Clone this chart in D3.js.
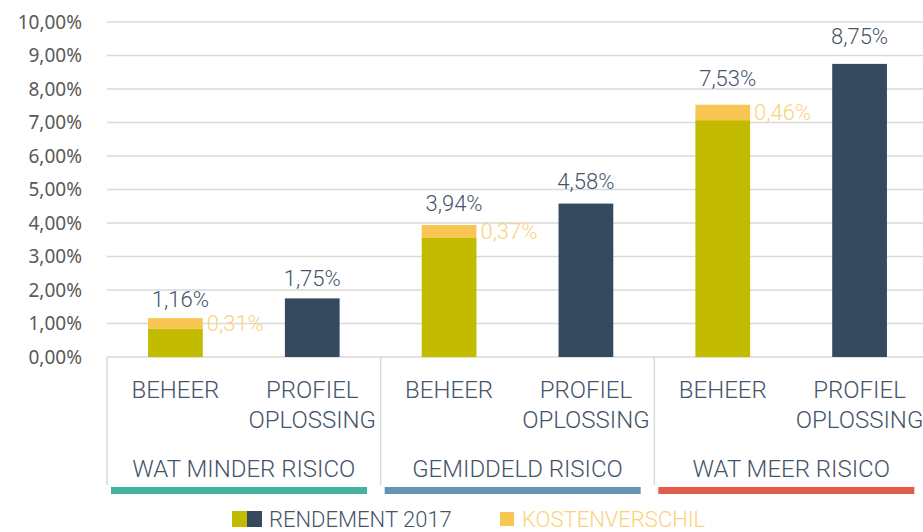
<!DOCTYPE html>
<html>
<head>
<meta charset="utf-8">
<script src="https://cdn.jsdelivr.net/npm/d3@7"></script>
<style>
  body { margin: 0; background: #fff; }
  svg { display: block; }
</style>
</head>
<body>
<div id="chart"></div>
<script>
const groups = ["WAT MINDER RISICO", "GEMIDDELD RISICO", "WAT MEER RISICO"];
const subCats = ["BEHEER", "PROFIEL OPLOSSING"];
const beheerRendement = [0.85, 3.57, 7.07];
const kostenverschil = [0.31, 0.37, 0.46];
const profielRendement = [1.75, 4.58, 8.75];
const yTicks = [0, 1, 2, 3, 4, 5, 6, 7, 8, 9, 10];
const groupColors = ["#45b39d", "#6394b5", "#e05c4b"];
const legendItems = ["RENDEMENT 2017", "KOSTENVERSCHIL"];

const width = 923;
const height = 532;
const margin = { top: 22, right: -5, bottom: 175, left: 107 };

const green = "#c2bb00", navy = "#354a5f", orange = "#f9c553";
const textCol = "#44546a", labelFont = "Roboto, sans-serif";

const fmt = d => d.toFixed(2).replace(".", ",") + "%";

const svg = d3.select("#chart").append("svg")
    .attr("width", width)
    .attr("height", height);

const x0 = d3.scaleBand()
    .domain(groups)
    .range([margin.left, width - margin.right]);

const x1 = d3.scaleBand()
    .domain(subCats)
    .range([0, x0.bandwidth()])
    .paddingInner(0.6)
    .paddingOuter(0.3);

const y = d3.scaleLinear()
    .domain([0, 10])
    .range([height - margin.bottom, margin.top]);

// gridlines
svg.append("g")
  .selectAll("line")
  .data(yTicks)
  .join("line")
    .attr("x1", margin.left)
    .attr("x2", width)
    .attr("y1", d => y(d))
    .attr("y2", d => y(d))
    .attr("stroke", "#d9d9d9")
    .attr("stroke-width", 1.5);

// y axis
const yAxis = svg.append("g")
    .attr("transform", `translate(${margin.left},0)`)
    .call(d3.axisLeft(y).tickValues(yTicks).tickSize(0).tickPadding(25).tickFormat(fmt));
yAxis.select(".domain").remove();
yAxis.selectAll("text")
    .attr("fill", "#595959")
    .attr("font-family", "'Noto Sans', sans-serif")
    .attr("font-size", 19);

// group dividers
const axisBottom = y(0);
svg.append("g")
  .selectAll("line")
  .data(groups)
  .join("line")
    .attr("x1", d => x0(d))
    .attr("x2", d => x0(d))
    .attr("y1", axisBottom)
    .attr("y2", axisBottom + 128)
    .attr("stroke", "#d9d9d9")
    .attr("stroke-width", 1.5);

const g = svg.append("g")
  .selectAll("g")
  .data(groups)
  .join("g")
    .attr("transform", d => `translate(${x0(d)},0)`);

// beheer stacked bar
g.append("rect")
    .attr("x", x1("BEHEER"))
    .attr("width", x1.bandwidth())
    .attr("y", (d, i) => y(beheerRendement[i]))
    .attr("height", (d, i) => y(0) - y(beheerRendement[i]))
    .attr("fill", green);

g.append("rect")
    .attr("x", x1("BEHEER"))
    .attr("width", x1.bandwidth())
    .attr("y", (d, i) => y(beheerRendement[i] + kostenverschil[i]))
    .attr("height", (d, i) => y(beheerRendement[i]) - y(beheerRendement[i] + kostenverschil[i]))
    .attr("fill", orange);

// profiel bar
g.append("rect")
    .attr("x", x1("PROFIEL OPLOSSING"))
    .attr("width", x1.bandwidth())
    .attr("y", (d, i) => y(profielRendement[i]))
    .attr("height", (d, i) => y(0) - y(profielRendement[i]))
    .attr("fill", navy);

// value labels
const valueText = sel => sel
    .attr("font-family", labelFont)
    .attr("font-weight", 300)
    .attr("font-size", 22);

g.append("text")
    .call(valueText)
    .attr("x", x1("BEHEER") + x1.bandwidth() / 2 + 5)
    .attr("y", (d, i) => { const v = beheerRendement[i] + kostenverschil[i]; return y(v) - (10 + v * 1.1); })
    .attr("text-anchor", "middle")
    .attr("fill", textCol)
    .text((d, i) => fmt(beheerRendement[i] + kostenverschil[i]));

g.append("text")
    .call(valueText)
    .attr("x", x1("BEHEER") + x1.bandwidth() + 4)
    .attr("y", (d, i) => y(beheerRendement[i] + kostenverschil[i] / 2))
    .attr("dy", "0.36em")
    .attr("fill", "#fbd27c")
    .text((d, i) => fmt(kostenverschil[i]));

g.append("text")
    .call(valueText)
    .attr("x", x1("PROFIEL OPLOSSING") + x1.bandwidth() / 2)
    .attr("y", (d, i) => y(profielRendement[i]) - (10 + profielRendement[i] * 1.1))
    .attr("text-anchor", "middle")
    .attr("fill", textCol)
    .text((d, i) => fmt(profielRendement[i]));

// category labels
g.selectAll("text.cat")
  .data(subCats)
  .join("text")
    .attr("class", "cat")
    .attr("x", d => x1(d) + x1.bandwidth() / 2)
    .attr("y", axisBottom + 41)
    .attr("text-anchor", "middle")
    .attr("font-family", labelFont)
    .attr("font-weight", 300)
    .attr("font-size", 24)
    .attr("fill", textCol)
  .selectAll("tspan")
  .data(d => d.split(" "))
  .join("tspan")
    .attr("x", function() { return this.parentNode.getAttribute("x"); })
    .attr("dy", (d, i) => i ? 30 : 0)
    .text(d => d);

// group labels
g.append("text")
    .attr("x", x0.bandwidth() / 2)
    .attr("y", axisBottom + 120)
    .attr("text-anchor", "middle")
    .attr("font-family", labelFont)
    .attr("font-weight", 300)
    .attr("font-size", 24)
    .attr("fill", textCol)
    .text(d => d);

// coloured strips
g.append("rect")
    .attr("x", 4)
    .attr("y", axisBottom + 130)
    .attr("width", 256)
    .attr("height", 7)
    .attr("fill", (d, i) => groupColors[i]);

// legend
const legend = svg.append("g").attr("transform", "translate(232,511)");
legend.append("rect").attr("width", 15).attr("height", 16).attr("fill", green);
legend.append("rect").attr("x", 15).attr("width", 15).attr("height", 16).attr("fill", navy);
legend.append("text")
    .attr("x", 37).attr("y", 16)
    .attr("font-family", labelFont).attr("font-weight", 300).attr("font-size", 22)
    .attr("fill", textCol)
    .text(legendItems[0]);
legend.append("rect").attr("x", 268).attr("y", 1).attr("width", 14).attr("height", 14).attr("fill", orange);
legend.append("text")
    .attr("x", 290).attr("y", 16)
    .attr("font-family", labelFont).attr("font-weight", 300).attr("font-size", 22)
    .attr("fill", "#fbd27c")
    .text(legendItems[1]);
</script>
</body>
</html>
